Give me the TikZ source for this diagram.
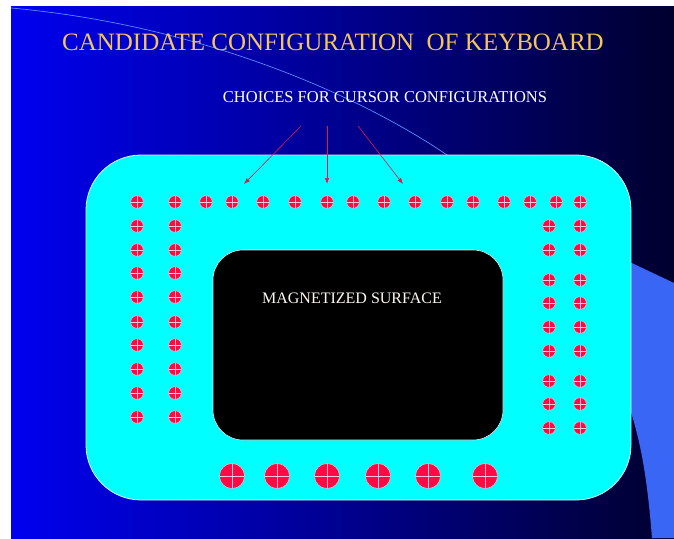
\documentclass[tikz,border=0pt]{standalone}
\usepackage{fontspec}
\setmainfont{Liberation Serif}
\usepackage{xcolor}
\usepackage{tikz}
\usetikzlibrary{calc,positioning,arrows.meta}
\definecolor{bgleft}{HTML}{0000F0}
\definecolor{bgright}{HTML}{00002E}
\definecolor{swoosh}{HTML}{3A66F5}
\definecolor{arcline}{HTML}{5A8CFF}
\definecolor{board}{HTML}{00FFFF}
\definecolor{keyred}{HTML}{FF0A45}
\definecolor{keyline}{HTML}{FFC8D8}
\definecolor{arrowred}{HTML}{E3174C}
\definecolor{gold}{HTML}{F5C45C}
\definecolor{cream}{HTML}{FFF8EE}

\tikzset{
  key/.style={circle, fill=keyred, draw=keyline, line width=0.4pt,
    minimum size=12.6pt, inner sep=0pt,
    path picture={\draw[keyline, line width=0.6pt]
      (path picture bounding box.north) -- (path picture bounding box.south)
      (path picture bounding box.west) -- (path picture bounding box.east);}},
  bigkey/.style={key, minimum size=25pt},
  pointer/.style={arrowred, line width=0.6pt, -{Latex[length=6pt,width=4.5pt]}}
}

\begin{document}
\begin{tikzpicture}[x=1pt, y=-1pt]
  \useasboundingbox (0,0) rectangle (674,538);
  \fill[white] (0,0) rectangle (674,538);
  % slide background
  \fill[left color=bgleft, right color=bgright] (11,6) rectangle (674,538);
  \begin{scope}
    \clip (11,6) rectangle (674,538);
    \fill[swoosh] (600,248) -- (674,283) -- (674,538) -- (652,538)
      .. controls (647,475) and (640,435) .. (625,395) -- cycle;
    \draw[arcline, line width=0.7pt] (11,8) .. controls (200,25) and (360,95) .. (450,157);
  \end{scope}

  % titles
  \node[text=gold, font=\fontsize{25}{30}\selectfont] (title) at (333,42)
    {CANDIDATE CONFIGURATION \ OF KEYBOARD};
  \node[text=white, font=\fontsize{16.5}{20}\selectfont] (choices) at (385,97)
    {CHOICES FOR CURSOR CONFIGURATIONS};

  % keyboard and surface
  \node[fill=board, draw=white!85!cyan, line width=0.8pt, rounded corners=55pt,
    minimum width=545pt, minimum height=345pt] (board) at (358.5,327.5) {};
  \node[fill=black, draw=white!80!gray, line width=0.6pt, rounded corners=30pt,
    minimum width=290pt, minimum height=190pt] (surface) at (358,345) {};
  \node[text=cream, font=\fontsize{16}{19}\selectfont] (surflabel) at (352,298)
    {MAGNETIZED SURFACE};

  % top row
  \foreach \x [count=\i] in {137,175,206,232,263,295,327,353,384,415,447,473,504,530,556,580}
    \node[key] (top\i) at (\x,202) {};
  % left columns
  \foreach \y [count=\i] in {226,250,273,297,322,345,369,393,417} {
    \node[key] (la\i) at (137,\y) {};
    \node[key] (lb\i) at (175,\y) {};
  }
  % right columns
  \foreach \y [count=\i] in {226,250,280,303,327,351,381,404,428} {
    \node[key] (ra\i) at (549,\y) {};
    \node[key] (rb\i) at (580,\y) {};
  }
  % bottom row
  \foreach \x [count=\i] in {232,277,327,378,428,485}
    \node[bigkey] (bot\i) at (\x,476) {};

  % pointers
  \coordinate (p1) at (301,126);
  \coordinate (p2) at (327,126);
  \coordinate (p3) at (358,126);
  \coordinate (q1) at (244,184);
  \coordinate (q2) at (327,184);
  \coordinate (q3) at (403,184);
  \foreach \i in {1,2,3}
    \draw[pointer] (p\i) -- (q\i);
\end{tikzpicture}
\end{document}
